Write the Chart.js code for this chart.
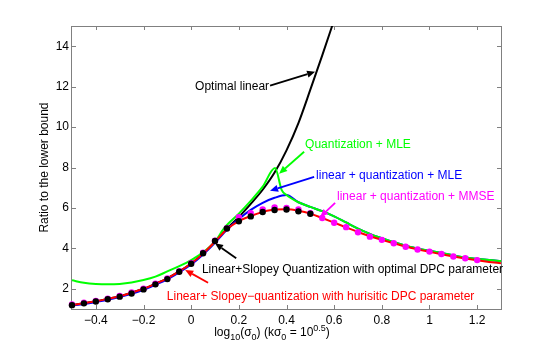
<!DOCTYPE html>
<html>
<head>
<meta charset="utf-8">
<script src="https://cdn.jsdelivr.net/npm/chart.js@4"></script>
<style>
  html, body { margin: 0; padding: 0; background: #fff; }
  #wrap { width: 554px; height: 348px; }
</style>
</head>
<body>
<div id="wrap"><canvas id="grafico"></canvas></div>
<script>
// eje x comun: log10(sigma0)
const xAll = [-0.5,-0.45,-0.4,-0.35,-0.3,-0.25,-0.2,-0.15,-0.1,-0.05,0,0.05,0.1,0.15,0.2,0.25,0.3,0.35,0.4,0.45,0.5,0.55,0.6,0.65,0.7,0.75,0.8,0.85,0.9,0.95,1,1.05,1.1,1.15,1.2,1.25,1.3];

// Linear+ Slopey-quantization, DPC heuristico (rojo)
const rojoY = [1.2,1.28,1.38,1.5,1.63,1.8,2.0,2.25,2.52,2.86,3.25,3.74,4.33,4.95,5.35,5.6,5.8,5.92,5.93,5.86,5.72,5.5,5.27,5.04,4.81,4.6,4.42,4.25,4.09,3.95,3.83,3.71,3.6,3.5,3.41,3.33,3.26];

// Quantization + MLE (verde)
const verdeX = [-0.5,-0.45,-0.4,-0.35,-0.3,-0.25,-0.2,-0.15,-0.1,-0.05,0,0.05,0.1,0.14,0.2,0.25,0.3,0.352,0.38,0.4,0.45,0.5,0.55,0.6,0.65,0.7,0.75,0.8,0.85,0.9,0.95,1,1.05,1.1,1.15,1.2,1.25,1.3];
const verdeY = [2.42,2.3,2.24,2.22,2.24,2.31,2.43,2.6,2.86,3.12,3.42,3.8,4.33,5.02,5.72,6.35,7.05,7.97,6.88,6.64,6.28,6.05,5.84,5.58,5.28,4.98,4.72,4.5,4.3,4.13,3.98,3.88,3.77,3.65,3.55,3.48,3.42,3.38];

// linear + quantization + MLE (azul)
const azulY = [1.17,1.25,1.35,1.46,1.59,1.75,1.95,2.2,2.47,2.81,3.2,3.7,4.28,4.92,5.45,5.9,6.25,6.5,6.64,6.28,6.05,5.84,5.58,5.28,4.98,4.72,4.5,4.3,4.13,3.98,3.88,3.77,3.65,3.55,3.48,3.42,3.38];

// Optimal linear (negro)
const linealX = [-0.5,-0.45,-0.4,-0.35,-0.3,-0.25,-0.2,-0.15,-0.1,-0.05,0,0.05,0.1,0.15,0.2,0.25,0.3,0.35,0.4,0.45,0.5,0.55,0.6];
const linealY = [1.2,1.28,1.38,1.5,1.63,1.8,2.0,2.25,2.52,2.86,3.25,3.74,4.33,4.97,5.55,6.2,6.9,7.75,8.85,10.2,11.85,13.55,15.3];

// Linear+Slopey Quantization, DPC optimo (puntos negros)
const puntosX = [-0.5,-0.45,-0.4,-0.35,-0.3,-0.25,-0.2,-0.15,-0.1,-0.05,0,0.05,0.1,0.15,0.2,0.25,0.3,0.35,0.4,0.45,0.5];
const puntosY = [1.19,1.28,1.37,1.48,1.61,1.77,1.97,2.22,2.48,2.84,3.24,3.76,4.37,4.98,5.34,5.58,5.8,5.9,5.92,5.83,5.71];

// linear + quantization + MMSE (puntos magenta)
const mmseX = [-0.5,-0.45,-0.4,-0.35,-0.3,-0.25,-0.2,-0.15,-0.1,-0.05,0,0.05,0.1,0.15,0.2,0.25,0.3,0.35,0.4,0.45,0.5,0.55,0.6,0.65,0.7,0.75,0.8,0.85,0.9,0.95,1,1.05,1.1,1.15,1.2];
const mmseY = [1.22,1.31,1.4,1.51,1.64,1.82,2.0,2.25,2.51,2.87,3.27,3.78,4.38,5.0,5.54,5.74,5.93,6.02,6.0,5.92,5.74,5.5,5.27,5.05,4.8,4.58,4.42,4.25,4.08,3.94,3.84,3.72,3.6,3.51,3.42];

const xTicks = [-0.4,-0.2,0,0.2,0.4,0.6,0.8,1,1.2];
const xTickLabels = ['\u22120.4','\u22120.2','0','0.2','0.4','0.6','0.8','1','1.2'];
const yTicks = [2,4,6,8,10,12,14];
const yTickLabels = ['2','4','6','8','10','12','14'];

const pares = (xs, ys) => xs.map((x, i) => ({ x: x, y: ys[i] }));

// anotaciones con flecha (coordenadas en unidades de datos)
const notas = [
  { texto: 'Optimal linear', color: '#000000', tx: 0.327, ty: 12.02, align: 'right', cola: [0.331, 12.05], punta: [0.52, 12.74] },
  { texto: 'Quantization + MLE', color: '#00ff00', tx: 0.478, ty: 9.13, align: 'left', cola: [0.474, 8.78], punta: [0.369, 7.69] },
  { texto: 'linear + quantization + MLE', color: '#0000ff', tx: 0.524, ty: 7.59, align: 'left', cola: [0.516, 7.54], punta: [0.331, 6.85] },
  { texto: 'linear + quantization + MMSE', color: '#ff00ff', tx: 0.612, ty: 6.57, align: 'left', cola: [0.604, 6.25], punta: [0.541, 5.55] },
  { texto: 'Linear+Slopey Quantization with optimal DPC parameter', color: '#000000', tx: 0.045, ty: 2.96, align: 'left', cola: [0.189, 3.51], punta: [0.10, 4.25] },
  { texto: 'Linear+ Slopey\u2212quantization with hurisitic DPC parameter', color: '#ff0000', tx: -0.102, ty: 1.60, align: 'left', cola: [0.071, 2.30], punta: [-0.025, 2.93] }
];

const FUENTE = '"Liberation Sans", Arial, Helvetica, sans-serif';
Chart.defaults.font.family = FUENTE;
Chart.defaults.font.size = 12;
Chart.defaults.color = '#000';

function flecha(ctx, x0, y0, x1, y1, color) {
  const ang = Math.atan2(y1 - y0, x1 - x0);
  const largo = 8, ancho = 3.5;
  const bx = x1 - largo * Math.cos(ang), by = y1 - largo * Math.sin(ang);
  ctx.strokeStyle = color;
  ctx.fillStyle = color;
  ctx.lineWidth = 1.8;
  ctx.beginPath();
  ctx.moveTo(x0, y0);
  ctx.lineTo(bx, by);
  ctx.stroke();
  ctx.beginPath();
  ctx.moveTo(x1, y1);
  ctx.lineTo(bx + ancho * Math.sin(ang), by - ancho * Math.cos(ang));
  ctx.lineTo(bx - ancho * Math.sin(ang), by + ancho * Math.cos(ang));
  ctx.closePath();
  ctx.fill();
}

// marco gris estilo MATLAB con ticks hacia dentro
const marco = {
  id: 'marco',
  beforeDatasetsDraw(chart) {
    const { ctx, chartArea: a, scales } = chart;
    ctx.save();
    ctx.strokeStyle = '#808080';
    ctx.lineWidth = 1;
    ctx.strokeRect(Math.round(a.left) - 0.5, Math.round(a.top) + 0.5, Math.round(a.right - a.left) + 1, Math.round(a.bottom - a.top));
    ctx.beginPath();
    xTicks.forEach(v => {
      const px = Math.round(scales.x.getPixelForValue(v)) + 0.5;
      ctx.moveTo(px, a.bottom); ctx.lineTo(px, a.bottom - 4);
      ctx.moveTo(px, a.top); ctx.lineTo(px, a.top + 4);
    });
    yTicks.forEach(v => {
      const py = Math.round(scales.y.getPixelForValue(v)) + 0.5;
      ctx.moveTo(a.left, py); ctx.lineTo(a.left + 4, py);
      ctx.moveTo(a.right, py); ctx.lineTo(a.right - 4, py);
    });
    ctx.stroke();
    ctx.restore();
  },
  afterDatasetsDraw(chart) {
    const { ctx, chartArea: a, scales } = chart;
    ctx.save();
    ctx.font = '12px ' + FUENTE;
    ctx.textBaseline = 'middle';
    notas.forEach(n => {
      const X = v => scales.x.getPixelForValue(v);
      const Y = v => scales.y.getPixelForValue(v);
      flecha(ctx, X(n.cola[0]), Y(n.cola[1]), X(n.punta[0]), Y(n.punta[1]), n.color);
      ctx.fillStyle = n.color;
      ctx.textAlign = n.align;
      ctx.fillText(n.texto, X(n.tx), Y(n.ty));
    });

    // titulo eje y
    ctx.fillStyle = '#000';
    ctx.save();
    ctx.translate(45, (a.top + a.bottom) / 2);
    ctx.rotate(-Math.PI / 2);
    ctx.textAlign = 'center';
    ctx.font = '12px ' + FUENTE;
    ctx.fillText('Ratio to the lower bound', 0, 0);
    ctx.restore();

    // titulo eje x con subindices
    const piezas = [
      { t: 'log', s: 12, dy: 0 }, { t: '10', s: 9, dy: 3.5 }, { t: '(\u03c3', s: 12, dy: 0 },
      { t: '0', s: 9, dy: 3.5 }, { t: ') (k\u03c3', s: 12, dy: 0 }, { t: '0', s: 9, dy: 3.5 },
      { t: ' = 10', s: 12, dy: 0 }, { t: '0.5', s: 9, dy: -5 }, { t: ')', s: 12, dy: 0 }
    ];
    ctx.textAlign = 'left';
    ctx.textBaseline = 'alphabetic';
    let total = 0;
    piezas.forEach(p => { ctx.font = p.s + 'px ' + FUENTE; total += ctx.measureText(p.t).width; });
    let cx = 272 - total / 2;
    piezas.forEach(p => {
      ctx.font = p.s + 'px ' + FUENTE;
      ctx.fillText(p.t, cx, 336 + p.dy);
      cx += ctx.measureText(p.t).width;
    });
    ctx.restore();
  }
};

const lineaBase = { showLine: true, pointRadius: 0, borderWidth: 2, cubicInterpolationMode: 'monotone', fill: false };

new Chart(document.getElementById('grafico'), {
  type: 'scatter',
  data: {
    datasets: [
      { label: 'Linear+Slopey Quantization with optimal DPC parameter', data: pares(puntosX, puntosY), showLine: false,
        pointRadius: 3.2, pointBackgroundColor: '#000', pointBorderColor: '#000', pointBorderWidth: 0, clip: false, order: 0 },
      { label: 'linear + quantization + MMSE', data: pares(mmseX, mmseY), showLine: false,
        pointRadius: 3.2, pointBackgroundColor: '#ff00ff', pointBorderColor: '#ff00ff', pointBorderWidth: 0, clip: false, order: 1 },
      Object.assign({ label: 'Linear+ Slopey-quantization with hurisitic DPC parameter', data: pares(xAll, rojoY), borderColor: '#ff0000', order: 2 }, lineaBase),
      Object.assign({ label: 'Quantization + MLE', data: pares(verdeX, verdeY), borderColor: '#00ff00', order: 3 }, lineaBase),
      Object.assign({ label: 'linear + quantization + MLE', data: pares(xAll, azulY), borderColor: '#0000ff', order: 4 }, lineaBase),
      Object.assign({ label: 'Optimal linear', data: pares(linealX, linealY), borderColor: '#000000', order: 5, clip: 0 }, lineaBase)
    ]
  },
  options: {
    responsive: true,
    maintainAspectRatio: false,
    animation: false,
    layout: { padding: { left: 0, top: 26, right: 53, bottom: 0 } },
    plugins: { legend: { display: false }, tooltip: { enabled: false } },
    scales: {
      x: {
        type: 'linear', min: -0.5, max: 1.3,
        afterBuildTicks: s => { s.ticks = xTicks.map(v => ({ value: v })); },
        afterFit: s => { s.height = 39; },
        ticks: { padding: 4, maxRotation: 0, autoSkip: false, callback: (v, i) => xTickLabels[i] },
        grid: { display: false, drawTicks: false, tickLength: 0 },
        border: { display: false }
      },
      y: {
        type: 'linear', min: 1, max: 15,
        afterBuildTicks: s => { s.ticks = yTicks.map(v => ({ value: v })); },
        afterFit: s => { s.width = 72; },
        ticks: { padding: 3, autoSkip: false, callback: (v, i) => yTickLabels[i] },
        grid: { display: false, drawTicks: false, tickLength: 0 },
        border: { display: false }
      }
    }
  },
  plugins: [marco]
});
</script>
</body>
</html>
